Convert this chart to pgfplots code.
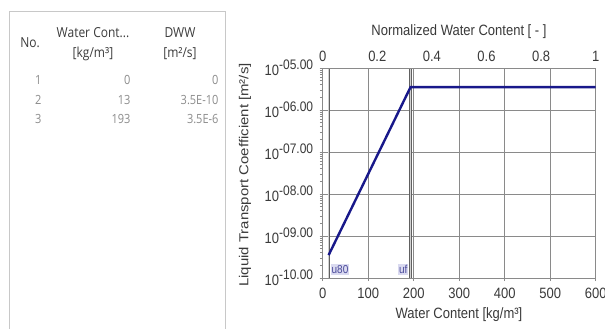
\documentclass[border=0pt]{standalone}
\usepackage{graphicx}
\usepackage{pgfplots}
\pgfplotsset{compat=1.18}
\usepackage{fontspec}
\setmainfont{Liberation Sans}
\newfontfamily\tablefont{Open Sans}
\definecolor{navyline}{HTML}{18188A}
\definecolor{gridgray}{HTML}{8A8A8A}
\definecolor{txt}{HTML}{3A3A3A}
\definecolor{tborder}{HTML}{C8C8C8}
\definecolor{thead}{HTML}{3C3C3C}
\definecolor{tdata}{HTML}{8C8C8C}
\definecolor{mlabel}{HTML}{4A4A9A}
\definecolor{mbg}{HTML}{DADAF0}
\newcommand{\vs}[1]{\scalebox{1}[1.15]{#1}}
\newcommand{\tk}[1]{\vs{10\raisebox{5pt}{\fontsize{12}{12}\selectfont #1}}}
\begin{document}
\begin{tikzpicture}[x=1pt,y=1pt]
\clip (0,0) rectangle (605,329);
\fill[white] (0,0) rectangle (605,329);
% table panel
\draw[tborder, line width=0.8pt] (9,-5) -- (9,318) -- (225,318) -- (225,-5);
\begin{scope}[font=\tablefont\fontsize{12}{12}\selectfont]
\node[thead] at (30,286) {\vs{No.}};
\node[thead] at (93,296) {\vs{Water Cont...}};
\node[thead] at (93,275) {\vs{[kg/m³]}};
\node[thead] at (180,296) {\vs{DWW}};
\node[thead] at (180,275) {\vs{[m²/s]}};
\end{scope}
\begin{scope}[font=\tablefont\fontsize{11}{11}\selectfont]
\node[tdata, anchor=east] at (45,249) {\vs{1}};
\node[tdata, anchor=east] at (45,229) {\vs{2}};
\node[tdata, anchor=east] at (45,210) {\vs{3}};
\node[tdata, anchor=east] at (134,249) {\vs{0}};
\node[tdata, anchor=east] at (134,229) {\vs{13}};
\node[tdata, anchor=east] at (134,210) {\vs{193}};
\node[tdata, anchor=east] at (222,249) {\vs{0}};
\node[tdata, anchor=east] at (222,229) {\vs{3.5E-10}};
\node[tdata, anchor=east] at (222,210) {\vs{3.5E-6}};
\end{scope}
% main axis
\begin{axis}[
  at={(322.7pt,51pt)}, anchor=south west,
  scale only axis, width=273pt, height=210pt,
  xmin=0, xmax=600, ymin=1e-10, ymax=1e-5, ymode=log,
  xtick={0,100,...,600},
  xticklabels={\vs{0},\vs{100},\vs{200},\vs{300},\vs{400},\vs{500},\vs{600}},
  ytick={1e-10,1e-9,1e-8,1e-7,1e-6,1e-5},
  yticklabels={\tk{-10.00},\tk{-09.00},\tk{-08.00},\tk{-07.00},\tk{-06.00},\tk{-05.00}},
  xtick pos=lower, ytick pos=left,
  tick align=outside, major tick length=3pt,
  minor tick num=0,
  grid=major,
  major grid style={gridgray, line width=0.8pt},
  axis line style={gridgray, line width=0.8pt},
  tick style={gridgray, line width=0.8pt},
  tick label style={font=\fontsize{13}{13}\selectfont, text=txt},
  xticklabel style={yshift=-4pt},
  yticklabel style={xshift=-3pt},
  clip=false,
]
\addplot[gridgray!70!black, line width=0.6pt, double=gray!35, double distance=0.9pt] coordinates {(13,1e-10) (13,1e-5)};
\addplot[gridgray!70!black, line width=0.6pt, double=gray!35, double distance=0.9pt] coordinates {(193,1e-10) (193,1e-5)};
\addplot[navyline, line width=2.4pt] coordinates {(13,3.5e-10) (193,3.5e-6) (600,3.5e-6)};
\node[fill=mbg, text=mlabel, inner sep=1pt, anchor=west, font=\fontsize{10}{10}\selectfont] at (axis cs:17,1.6e-10) {\vs{u80}};
\node[fill=mbg, text=mlabel, inner sep=1pt, anchor=east, font=\fontsize{10}{10}\selectfont] at (axis cs:189,1.6e-10) {\vs{uf}};
\end{axis}
% top axis
\begin{axis}[
  at={(322.7pt,51pt)}, anchor=south west,
  scale only axis, width=273pt, height=210pt,
  xmin=0, xmax=1, ymin=0, ymax=1,
  axis x line*=top, axis y line=none,
  xtick={0,0.2,0.4,0.6,0.8,1},
  xticklabels={\vs{0},\vs{0.2},\vs{0.4},\vs{0.6},\vs{0.8},\vs{1}},
  major tick length=0pt,
  axis line style={gridgray, line width=0.8pt},
  tick label style={font=\fontsize{13}{13}\selectfont, text=txt},
  xticklabel style={yshift=3pt},
]
\end{axis}
\node[txt, font=\fontsize{13}{13}\selectfont] at (459,297) {\vs{Normalized Water Content [ - ]}};
\node[txt, font=\fontsize{13}{13}\selectfont] at (459,14) {\vs{Water Content [kg/m³]}};
\node[txt, rotate=90, font=\fontsize{13}{13}\selectfont] at (245,154) {\scalebox{1.15}[1]{Liquid Transport Coefficient [m²/s]}};
\end{tikzpicture}
\end{document}
